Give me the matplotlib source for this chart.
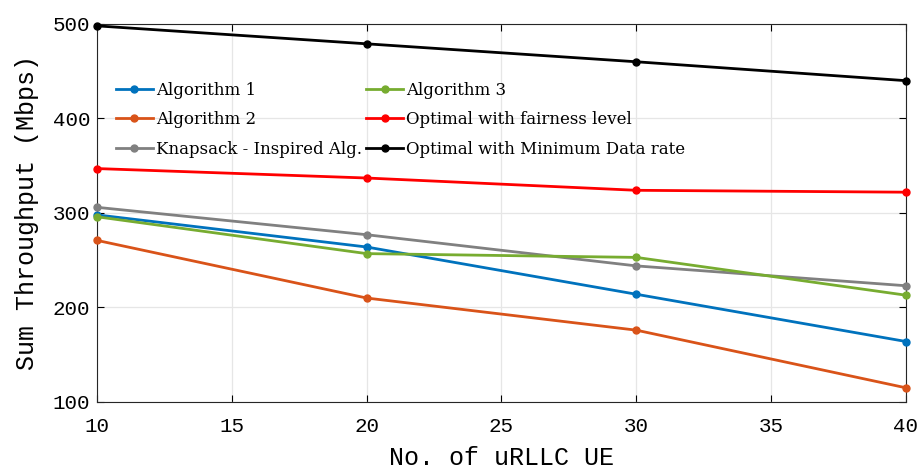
import matplotlib
matplotlib.use('Agg')
import matplotlib.pyplot as plt

ue = [10, 20, 30, 40]

alg1 = [298, 264, 214, 164]
alg2 = [271, 210, 176, 115]
knap = [306, 277, 244, 223]
alg3 = [296, 257, 253, 213]
opt_fair = [347, 337, 324, 322]
opt_min = [498, 479, 460, 440]

series = [
    ('Algorithm 1', alg1, '#0072BD'),
    ('Algorithm 2', alg2, '#D95319'),
    ('Knapsack - Inspired Alg.', knap, '#808080'),
    ('Algorithm 3', alg3, '#77AC30'),
    ('Optimal with fairness level', opt_fair, '#FF0000'),
    ('Optimal with Minimum Data rate', opt_min, '#000000'),
]

fig = plt.figure(figsize=(9.21, 4.7), dpi=100)
ax = fig.add_axes([0.1053, 0.1447, 0.8784, 0.8043])

for name, vals, c in series:
    ax.plot(ue, vals, color=c, linewidth=2.0, marker='o', markersize=5,
            label=name, clip_on=False, zorder=3)

ax.set_xlim(10, 40)
ax.set_ylim(100, 500)
ax.set_xticks([10, 15, 20, 25, 30, 35, 40])
ax.set_yticks([100, 200, 300, 400, 500])
ax.grid(True, color='#e6e6e6', linewidth=0.9)
ax.set_axisbelow(True)
ax.tick_params(direction='in', top=True, right=True, length=5, width=0.8,
               labelsize=15, pad=5)
ax.tick_params(axis='x', pad=11)
for lab in ax.get_xticklabels() + ax.get_yticklabels():
    lab.set_fontfamily('Liberation Mono')
for s in ax.spines.values():
    s.set_linewidth(0.8)
    s.set_color('#262626')

ax.set_xlabel('No. of uRLLC UE', fontsize=18, family='Liberation Mono', labelpad=7)
ax.set_ylabel('Sum Throughput (Mbps)', fontsize=18, family='Liberation Mono', labelpad=10)

ax.legend(loc='upper left', bbox_to_anchor=(0.005, 0.887), ncol=2, frameon=False,
          prop={'family': 'DejaVu Serif', 'size': 12}, handlelength=2.2,
          handletextpad=0.2, columnspacing=0.25, labelspacing=0.75)

fig.savefig('out.png', dpi=100)
